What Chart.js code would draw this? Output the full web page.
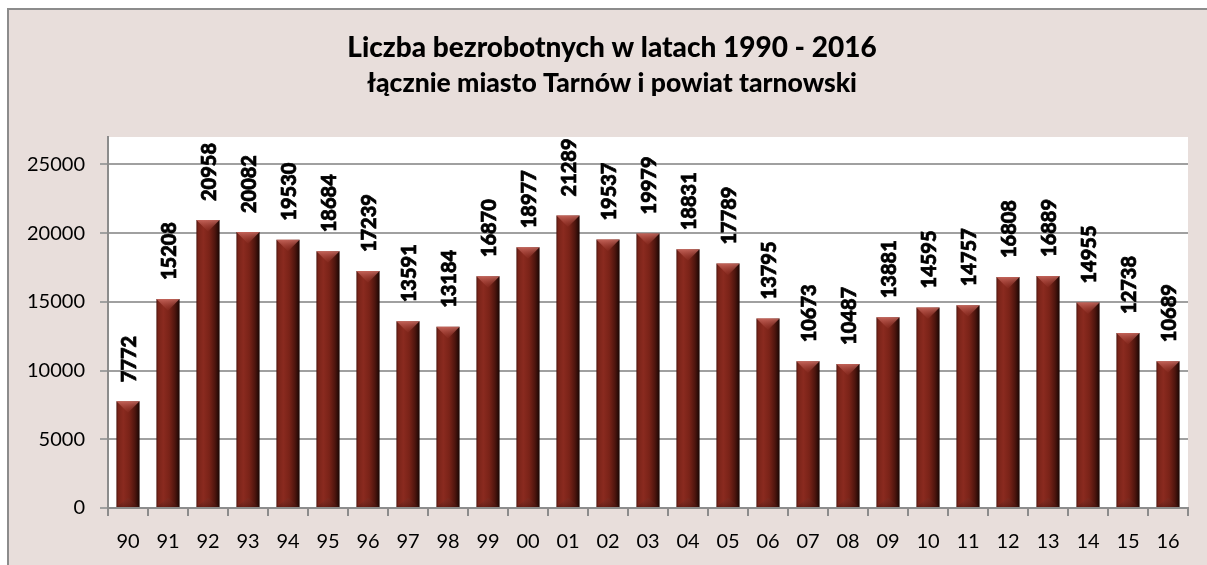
<!DOCTYPE html>
<html><head><meta charset="utf-8">
<script src="https://cdn.jsdelivr.net/npm/chart.js@4"></script>
<style>html,body{margin:0;padding:0;background:#fff;overflow:hidden}#wrap{width:1207px;height:565px}</style>
</head><body><div id="wrap"><canvas id="c" width="1207" height="565"></canvas></div>
<script>
const categories = ['90','91','92','93','94','95','96','97','98','99','00','01','02','03','04','05','06','07','08','09','10','11','12','13','14','15','16'];
const unemployed = [7772,15208,20958,20082,19530,18684,17239,13591,13184,16870,18977,21289,19537,19979,18831,17789,13795,10673,10487,13881,14595,14757,16808,16889,14955,12738,10689];
const yTickValues = [0,5000,10000,15000,20000,25000];
const yMax = 27000;
const titleText = 'Liczba bezrobotnych w latach 1990 - 2016';
const subtitleText = 'łącznie miasto Tarnów i powiat tarnowski';

const FONT = 'Lato, "Open Sans", sans-serif';
const BAR_PCT = 0.58;

const framePlugin = {
  id: 'frame',
  beforeDraw(chart) {
    const ctx = chart.ctx, W = chart.width, H = chart.height, a = chart.chartArea;
    ctx.save();
    ctx.fillStyle = '#ffffff'; ctx.fillRect(0, 0, W, H);
    ctx.fillStyle = '#e8dedb'; ctx.fillRect(8, 9, W - 8, H - 9);
    ctx.fillStyle = '#8c8c8c';
    ctx.fillRect(7, 8, 2, H - 8);
    ctx.fillRect(7, 8, W - 7, 2);
    ctx.fillStyle = '#ffffff';
    ctx.fillRect(a.left, a.top, a.right - a.left, a.bottom - a.top);
    // chart titles
    ctx.fillStyle = '#000';
    ctx.textAlign = 'center';
    ctx.textBaseline = 'alphabetic';
    ctx.font = '900 28px ' + FONT;
    ctx.fillText(titleText, 612, 57);
    ctx.font = '900 26.5px ' + FONT;
    ctx.fillText(subtitleText, 612, 92);
    ctx.restore();
  }
};

const bevelPlugin = {
  id: 'bevel',
  afterDatasetsDraw(chart) {
    const ctx = chart.ctx;
    const meta = chart.getDatasetMeta(0);
    ctx.save();
    meta.data.forEach((el) => {
      const w = el.width, x = el.x, y = el.y, base = el.base;
      const hb = Math.min(w * 0.5, base - y);
      let g = ctx.createLinearGradient(0, y, 0, y + hb);
      g.addColorStop(0, 'rgba(205,110,100,0.85)');
      g.addColorStop(1, 'rgba(160,60,50,0.15)');
      ctx.fillStyle = g;
      ctx.beginPath();
      ctx.moveTo(x - w / 2, y); ctx.lineTo(x + w / 2, y); ctx.lineTo(x, y + hb); ctx.closePath();
      ctx.fill();
      const hb2 = Math.min(w * 0.4, base - y);
      g = ctx.createLinearGradient(0, base, 0, base - hb2);
      g.addColorStop(0, 'rgba(70,20,15,0.45)');
      g.addColorStop(1, 'rgba(120,60,55,0.15)');
      ctx.fillStyle = g;
      ctx.beginPath();
      ctx.moveTo(x - w / 2, base); ctx.lineTo(x + w / 2, base); ctx.lineTo(x, base - hb2); ctx.closePath();
      ctx.fill();
    });
    ctx.restore();
  }
};

const labelPlugin = {
  id: 'valueLabels',
  afterDatasetsDraw(chart) {
    const ctx = chart.ctx;
    const meta = chart.getDatasetMeta(0);
    const data = chart.data.datasets[0].data;
    ctx.save();
    ctx.fillStyle = '#000';
    ctx.strokeStyle = '#000';
    ctx.lineWidth = 0.7;
    ctx.font = '900 20px ' + FONT;
    ctx.textAlign = 'left';
    ctx.textBaseline = 'middle';
    meta.data.forEach((el, i) => {
      ctx.save();
      ctx.translate(el.x + 1.5, el.y - 19);
      ctx.rotate(-Math.PI / 2);
      ctx.fillText(String(data[i]), 0, 0);
      ctx.strokeText(String(data[i]), 0, 0);
      ctx.restore();
    });
    ctx.restore();
  }
};

function barGradient(c) {
  const ch = c.chart, xs = ch.scales.x;
  if (!xs || !ch.chartArea) return '#7a2318';
  const cx = xs.getPixelForValue(c.dataIndex);
  const w = (xs.width / categories.length) * BAR_PCT;
  const l = cx - w / 2;
  const g = ch.ctx.createLinearGradient(l, 0, l + w, 0);
  g.addColorStop(0, '#4a120c');
  g.addColorStop(0.08, '#7a2419');
  g.addColorStop(0.3, '#8a2a1f');
  g.addColorStop(0.55, '#7a2318');
  g.addColorStop(0.8, '#4e150e');
  g.addColorStop(1, '#1a0603');
  return g;
}

new Chart(document.getElementById('c'), {
  type: 'bar',
  data: {
    labels: categories,
    datasets: [{
      data: unemployed,
      backgroundColor: barGradient,
      borderWidth: 0,
      barPercentage: BAR_PCT,
      categoryPercentage: 1.0,
      clip: false
    }]
  },
  options: {
    responsive: false,
    animation: false,
    devicePixelRatio: 1,
    layout: { padding: { left: 0, right: 19, top: 137, bottom: 0 } },
    plugins: {
      legend: { display: false },
      tooltip: { enabled: false },
      title: { display: false },
      subtitle: { display: false }
    },
    scales: {
      x: {
        offset: true,
        grid: { offset: true, drawOnChartArea: false, drawTicks: true, tickLength: 8, color: '#8c8c8c', lineWidth: 2 },
        border: { display: true, color: '#8c8c8c', width: 2 },
        ticks: { color: '#000', font: { family: FONT, size: 20 }, padding: 14, maxRotation: 0, autoSkip: false },
        afterFit(s) { s.height = 57; }
      },
      y: {
        min: 0, max: yMax,
        grid: { color: '#a0a0a0', lineWidth: 2, tickLength: 8, drawTicks: true },
        border: { display: true, color: '#8c8c8c', width: 2 },
        ticks: { color: '#000', font: { family: FONT, size: 20 }, padding: 15, stepSize: 5000, callback: (v) => String(v) },
        afterBuildTicks(s) { s.ticks = yTickValues.map(v => ({ value: v })); },
        afterFit(s) { s.width = 108; }
      }
    }
  },
  plugins: [framePlugin, bevelPlugin, labelPlugin]
});
</script>
</body></html>
